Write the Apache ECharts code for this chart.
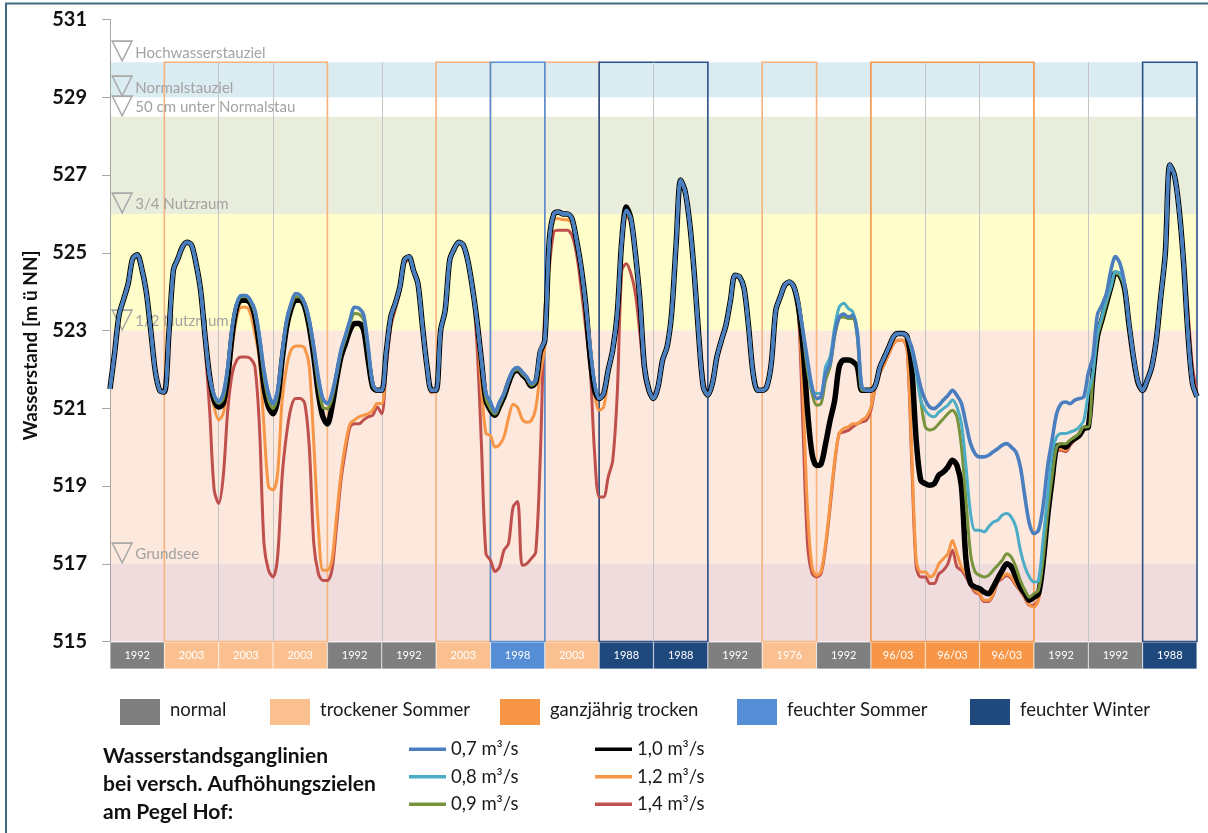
<!DOCTYPE html>
<html><head><meta charset="utf-8">
<script src="https://cdn.jsdelivr.net/npm/echarts@6/dist/echarts.min.js"></script>
<style>html,body{margin:0;padding:0;background:#fff}#c{width:1208px;height:833px}</style>
</head><body><div id="c"></div>
<script>
// ---- data ----
const stepsPerYear = 12;
const yearLabels = ['1992','2003','2003','2003','1992','1992','2003','1998','2003','1988','1988','1992','1976','1992','96/03','96/03','96/03','1992','1992','1988'];
const yearTypes  = ['n','ts','ts','ts','n','n','ts','fs','ts','fw','fw','n','ts','n','gt','gt','gt','n','n','fw'];
const typeKeys   = ['n','ts','gt','fs','fw'];
const typeNames  = ['normal','trockener Sommer','ganzjährig trocken','feuchter Sommer','feuchter Winter'];
const typeColors = ['#7f7f7f','#fac090','#f79646','#558ed5','#1f497d'];
const frameColors= ['#bfbfbf','#f6b27f','#f79646','#558ed5','#2a5087'];

const bandRanges = [[529,529.9],[526,528.5],[523,526],[517,523],[515,517]];
const bandColors = ['#daebf2','#e9eddc','#fffdca','#fce8dc','#f0dcdc'];
const levelNames = ['Hochwasserstauziel','Normalstauziel','50 cm unter Normalstau','3/4 Nutzraum','1/2 Nutzraum','Grundsee'];
const levelValues = [529.9,529.0,528.5,526.0,523.0,517.0];

const seriesNames = ['1,4 m³/s','1,2 m³/s','1,0 m³/s','0,9 m³/s','0,8 m³/s','0,7 m³/s'];
const seriesColors = ['#c0504d','#f79646','#000000','#77933c','#4bacc6','#4a7ebf'];

const h07 = [
521.5,522.4,523.4,523.8,524.2,524.85,524.95,524.6,524.0,523.0,521.95,521.45,
521.42,522.92,524.55,524.85,525.15,525.27,525.2,524.72,524.04,522.84,521.81,521.34,
521.17,521.38,522.07,523.1,523.7,523.9,523.9,523.78,523.52,522.84,521.98,521.38,
521.12,521.46,522.4,523.27,523.7,523.95,523.9,523.7,523.27,522.58,521.8,521.25,
521.12,521.38,521.9,522.5,522.88,523.27,523.6,523.57,523.4,522.58,521.64,521.46,
521.46,522.45,523.35,523.7,524.12,524.81,524.9,524.55,524.2,523.1,522.07,521.46,
521.46,523.0,523.52,524.81,525.1,525.27,525.2,524.8,524.12,523.27,522.24,521.38,
521.16,520.9,521.16,521.38,521.72,521.98,522.05,521.94,521.81,521.64,521.72,522.49,
522.75,525.33,526.0,526.05,526.0,526.0,525.88,525.33,524.64,523.7,522.58,521.64,
521.25,521.38,521.98,522.5,523.44,525.32,526.09,525.88,524.98,523.78,522.07,521.46,
521.25,521.55,522.24,522.58,523.44,525.24,526.87,526.57,525.75,524.47,522.84,521.55,
521.34,521.64,522.32,522.75,523.14,523.78,524.42,524.38,524.08,523.09,521.89,521.46,
521.46,521.55,522.15,523.52,523.87,524.17,524.25,524.12,523.7,523.0,522.24,521.55,
521.25,521.3,521.9,522.15,522.92,523.35,523.42,523.35,523.39,522.92,521.55,521.46,
521.46,521.59,522.06,522.32,522.58,522.84,522.92,522.92,522.84,522.58,522.06,521.55,
521.21,521.03,520.99,521.08,521.21,521.33,521.46,521.33,521.12,520.6,520.09,519.83,
519.75,519.75,519.79,519.88,519.96,520.05,520.09,520.0,519.88,519.49,518.72,518.03,
517.78,517.86,518.46,519.49,520.18,520.86,521.12,521.16,521.12,521.21,521.25,521.29,
521.9,522.32,523.4,523.65,523.95,524.55,524.9,524.72,524.2,523.18,522.32,521.68,
521.46,521.72,522.06,522.75,523.87,524.98,527.26,527.0,526.18,524.81,522.92,521.64,
521.3];

const h08 = [
521.5,522.4,523.4,523.8,524.2,524.85,524.95,524.6,524.0,523.0,521.95,521.45,
521.42,522.92,524.55,524.85,525.15,525.27,525.2,524.72,524.04,522.84,521.81,521.34,
521.17,521.38,522.07,523.1,523.7,523.9,523.9,523.78,523.52,522.84,521.98,521.38,
521.12,521.46,522.4,523.27,523.7,523.95,523.9,523.7,523.27,522.58,521.8,521.25,
521.12,521.38,521.9,522.5,522.88,523.27,523.6,523.57,523.4,522.58,521.64,521.46,
521.46,522.45,523.35,523.7,524.12,524.81,524.9,524.55,524.2,523.1,522.07,521.46,
521.46,523.0,523.52,524.81,525.1,525.27,525.2,524.8,524.12,523.27,522.24,521.38,
521.16,520.9,521.16,521.38,521.72,521.98,522.05,521.94,521.81,521.64,521.72,522.49,
522.75,525.33,526.0,526.05,526.0,526.0,525.88,525.33,524.64,523.7,522.58,521.64,
521.25,521.38,521.98,522.5,523.44,525.32,526.09,525.88,524.98,523.78,522.07,521.46,
521.25,521.55,522.24,522.58,523.44,525.24,526.87,526.57,525.75,524.47,522.84,521.55,
521.34,521.64,522.32,522.75,523.14,523.78,524.42,524.38,524.08,523.09,521.89,521.46,
521.46,521.55,522.15,523.52,523.87,524.17,524.25,524.12,523.7,523.0,522.15,521.46,
521.38,521.38,522.07,522.32,523.09,523.6,523.7,523.57,523.48,523.01,521.55,521.46,
521.46,521.59,522.06,522.32,522.58,522.84,522.92,522.92,522.84,522.5,521.9,521.21,
520.95,520.82,520.78,520.9,520.99,521.08,521.21,521.03,520.6,519.49,518.29,517.86,
517.86,517.82,517.95,518.07,518.12,518.25,518.29,518.2,517.95,517.35,516.92,516.66,
516.53,516.57,517.6,518.72,519.83,520.26,520.35,520.35,520.39,520.43,520.52,520.69,
521.38,521.89,522.92,523.35,523.78,524.12,524.51,524.47,524.12,523.18,522.32,521.68,
521.46,521.72,522.06,522.75,523.87,524.98,527.26,527.0,526.18,524.81,522.92,521.64,
521.3];

const h09 = [
521.5,522.4,523.4,523.8,524.2,524.85,524.95,524.6,524.0,523.0,521.95,521.45,
521.42,522.92,524.55,524.85,525.15,525.27,525.2,524.72,524.04,522.84,521.81,521.29,
521.12,521.25,521.98,523.05,523.68,523.87,523.87,523.74,523.44,522.75,521.81,521.21,
520.99,521.34,522.32,523.18,523.63,523.87,523.85,523.65,523.18,522.45,521.59,521.03,
520.99,521.25,521.81,522.41,522.79,523.18,523.44,523.42,523.27,522.45,521.59,521.46,
521.46,522.45,523.35,523.7,524.12,524.81,524.9,524.55,524.2,523.1,522.07,521.46,
521.46,523.0,523.52,524.81,525.1,525.27,525.2,524.8,524.12,523.27,522.24,521.25,
520.99,520.85,521.08,521.34,521.68,521.94,522.0,521.89,521.77,521.59,521.68,522.45,
522.75,525.33,526.0,526.05,526.0,526.0,525.88,525.33,524.64,523.7,522.58,521.64,
521.25,521.38,521.98,522.5,523.44,525.32,526.09,525.88,524.98,523.78,522.07,521.46,
521.25,521.55,522.24,522.58,523.44,525.24,526.87,526.57,525.75,524.47,522.84,521.55,
521.34,521.64,522.32,522.75,523.14,523.78,524.42,524.38,524.08,523.09,521.89,521.46,
521.46,521.55,522.15,523.52,523.87,524.17,524.25,524.12,523.7,522.92,521.98,521.38,
521.08,521.12,521.72,522.07,522.84,523.31,523.35,523.31,523.31,522.84,521.46,521.46,
521.46,521.59,522.06,522.32,522.58,522.84,522.92,522.92,522.84,522.5,522.06,521.21,
520.52,520.44,520.48,520.6,520.73,520.86,520.95,520.78,520.0,518.63,517.26,516.79,
516.7,516.66,516.7,516.83,516.96,517.09,517.26,517.17,516.92,516.57,516.32,516.14,
516.23,516.32,517.09,518.29,519.23,520.0,520.09,520.09,520.18,520.26,520.35,520.52,
520.52,521.81,522.84,523.27,523.7,524.12,524.47,524.42,524.08,523.14,522.28,521.65,
521.46,521.72,522.06,522.75,523.87,524.98,527.26,527.0,526.18,524.81,522.92,521.64,
521.3];

const h10 = [
521.5,522.4,523.4,523.8,524.2,524.85,524.95,524.6,524.0,523.0,521.95,521.45,
521.42,522.92,524.55,524.85,525.15,525.27,525.2,524.72,524.04,522.84,521.81,521.2,
521.03,521.12,521.81,522.92,523.61,523.78,523.78,523.7,523.35,522.58,521.55,521.03,
520.86,521.21,522.24,523.09,523.57,523.78,523.78,523.61,523.09,522.32,521.38,520.78,
520.6,521.03,521.72,522.32,522.67,523.01,523.18,523.18,523.01,522.24,521.55,521.46,
521.46,522.45,523.35,523.7,524.12,524.81,524.9,524.55,524.2,523.1,522.07,521.46,
521.46,523.0,523.52,524.81,525.1,525.27,525.2,524.8,524.12,523.27,522.24,521.2,
520.95,520.82,521.05,521.3,521.65,521.92,521.98,521.87,521.75,521.57,521.66,522.45,
522.75,525.33,526.0,526.05,526.0,526.0,525.88,525.33,524.64,523.7,522.32,521.46,
521.25,521.38,521.98,522.5,523.44,525.32,526.18,525.88,524.98,523.78,522.07,521.46,
521.25,521.55,522.24,522.58,523.44,525.24,526.87,526.57,525.75,524.47,522.84,521.55,
521.34,521.64,522.32,522.75,523.14,523.78,524.42,524.38,524.08,523.09,521.89,521.46,
521.46,521.55,522.15,523.52,523.87,524.17,524.25,524.12,523.61,522.58,520.95,519.83,
519.53,519.57,520.09,520.69,521.2,522.07,522.24,522.24,522.2,522.07,521.46,521.46,
521.46,521.59,522.06,522.32,522.58,522.84,522.92,522.92,522.84,522.06,520.18,519.15,
519.06,519.02,519.06,519.28,519.36,519.49,519.66,519.53,518.98,517.09,516.49,516.4,
516.36,516.27,516.23,516.4,516.62,516.83,517.0,516.92,516.66,516.4,516.23,516.06,
516.14,516.23,517.0,518.2,519.15,520.0,520.05,520.0,520.13,520.22,520.3,520.48,
520.52,521.81,522.84,523.27,523.7,524.12,524.47,524.42,524.08,523.14,522.28,521.65,
521.46,521.72,522.06,522.75,523.87,524.98,527.26,527.0,526.18,524.81,522.92,521.64,
521.3];

const h12 = [
521.5,522.4,523.4,523.8,524.2,524.85,524.95,524.6,524.0,523.0,521.95,521.45,
521.42,522.92,524.55,524.85,525.15,525.27,525.2,524.72,524.04,522.75,521.64,521.03,
520.7,520.86,521.55,522.58,523.35,523.6,523.6,523.44,522.92,522.24,520.52,518.98,
518.9,519.32,521.2,522.07,522.5,522.6,522.6,522.54,522.07,520.09,517.95,516.83,
516.83,517.09,518.2,519.32,520.09,520.6,520.7,520.78,520.82,520.86,520.95,521.12,
521.12,522.24,523.2,523.6,524.05,524.75,524.85,524.5,524.15,523.05,522.0,521.4,
521.46,523.0,523.52,524.81,525.1,525.27,525.2,524.8,524.12,523.09,521.55,520.35,
520.3,520.0,520.06,520.27,520.75,521.1,521.02,520.72,520.64,520.68,521.0,521.9,
522.58,525.15,525.84,525.88,525.85,525.85,525.75,525.24,524.47,523.44,522.24,521.38,
520.95,521.03,521.8,522.5,523.44,525.32,525.92,525.8,524.98,523.78,522.07,521.46,
521.25,521.55,522.24,522.58,523.44,525.24,526.87,526.57,525.75,524.47,522.84,521.55,
521.34,521.64,522.32,522.75,523.14,523.78,524.42,524.38,524.08,523.09,521.89,521.46,
521.46,521.55,522.15,523.52,523.87,524.17,524.25,524.12,523.52,521.38,518.38,516.92,
516.7,516.8,517.52,518.55,519.66,520.35,520.48,520.52,520.6,520.6,520.7,520.78,
521.03,521.55,521.9,522.15,522.41,522.66,522.75,522.75,522.5,519.92,517.09,516.79,
516.79,516.66,516.74,517.0,517.13,517.26,517.6,517.26,516.92,516.74,516.49,516.32,
516.23,516.06,516.06,516.23,516.57,516.66,516.74,516.66,516.49,516.32,516.14,515.93,
515.89,516.06,516.92,518.12,519.06,519.92,519.96,519.92,520.09,520.18,520.26,520.43,
520.52,521.81,522.84,523.27,523.7,524.12,524.47,524.42,524.08,523.14,522.28,521.65,
521.46,521.72,522.06,522.75,523.87,524.98,527.26,527.0,526.18,524.81,522.92,521.64,
521.3];

const h14 = [
521.5,522.4,523.4,523.8,524.2,524.85,524.95,524.6,524.0,523.0,521.95,521.45,
521.42,522.92,524.55,524.85,525.15,525.27,525.2,524.72,524.04,522.58,520.95,518.9,
518.55,519.24,520.95,521.9,522.24,522.32,522.32,522.28,522.07,520.52,517.52,516.83,
516.66,517.17,519.23,520.35,521.03,521.25,521.25,521.12,520.0,517.52,516.75,516.57,
516.57,516.83,517.95,519.15,519.92,520.52,520.6,520.6,520.7,520.78,520.82,521.03,
520.86,522.07,523.1,523.55,524.0,524.72,524.82,524.5,524.15,523.05,522.0,521.4,
521.46,523.0,523.52,524.81,525.1,525.27,525.2,524.8,524.12,522.7,520.09,517.26,
517.09,516.8,516.92,517.35,517.52,518.46,518.6,516.96,517.0,517.13,517.3,519.75,
523.5,524.64,525.54,525.58,525.58,525.58,525.45,524.98,524.12,523.1,522.07,519.83,
518.72,518.72,519.23,519.66,521.38,524.55,524.72,524.47,523.95,522.92,521.8,521.38,
521.25,521.55,522.24,522.58,523.44,525.24,526.87,526.57,525.75,524.3,523.09,521.81,
521.34,521.64,522.32,522.75,523.14,523.78,524.42,524.38,524.08,523.09,521.89,521.46,
521.46,521.55,522.15,523.52,523.87,524.17,524.25,524.12,523.44,520.52,517.52,516.75,
516.66,516.75,517.43,518.46,519.58,520.35,520.39,520.43,520.52,520.6,520.65,520.69,
520.95,521.55,521.9,522.15,522.41,522.66,522.75,522.75,522.5,519.66,516.92,516.66,
516.66,516.49,516.49,516.74,516.83,517.0,517.35,516.92,516.83,516.66,516.45,516.27,
516.2,516.03,516.03,516.2,516.53,516.62,516.7,516.62,516.45,516.3,516.12,515.93,
515.93,516.1,516.96,518.16,519.1,519.92,519.92,519.88,520.05,520.18,520.3,520.48,
520.52,521.81,522.84,523.27,523.7,524.12,524.47,524.42,524.08,523.14,522.28,521.65,
521.46,521.72,522.06,522.75,523.87,524.98,527.26,527.0,526.18,524.98,523.52,522.07,
521.4];

const seriesData = [h14, h12, h10, h09, h08, h07];
const seriesWidths = [3, 3, 5.5, 3, 3, 3.6];

// ---- build ----
const nYears = yearLabels.length;
const maxX = nYears * stepsPerYear;
const topLevel = levelValues[0];
const FONT = 'Lato, "Open Sans", sans-serif';
function tIdx(t){ return typeKeys.indexOf(t); }

const groups = [];
yearTypes.forEach((t, i) => {
  if (t === 'n') return;
  const last = groups[groups.length - 1];
  if (last && last.type === t && last.end === i) last.end = i + 1;
  else groups.push({type: t, start: i, end: i + 1});
});
const frameEdges = new Set();
groups.forEach(g => { frameEdges.add(g.start); frameEdges.add(g.end); });
groups.sort((a, b) => tIdx(a.type) - tIdx(b.type));
const grayLines = [];
for (let b = 1; b < nYears; b++) if (!frameEdges.has(b)) grayLines.push(b);

const bgSeries = {
  type: 'line', data: [], z: 1, silent: true,
  markArea: {
    silent: true, z: 0,
    data: bandRanges.map((r, i) => [
      {yAxis: r[0], itemStyle: {color: bandColors[i]}},
      {yAxis: r[1]}
    ])
  }
};
const frameSeries = {
  type: 'line', data: [], z: 1, silent: true,
  markArea: {
    silent: true, z: 1,
    data: groups.map(g => [
      {coord: [g.start * stepsPerYear, 515], itemStyle: {color: 'rgba(0,0,0,0)', borderColor: frameColors[tIdx(g.type)], borderWidth: 1.6}},
      {coord: [g.end * stepsPerYear, topLevel]}
    ])
  },
  markLine: {
    silent: true, z: 1, symbol: ['none', 'none'],
    lineStyle: {color: '#c4c4c4', width: 1, type: 'solid'},
    label: {show: false},
    data: grayLines.map(b => [{coord: [b * stepsPerYear, 515]}, {coord: [b * stepsPerYear, topLevel]}])
  }
};
const labelSeries = {
  type: 'line', data: [], z: 1, silent: true,
  markLine: {
    silent: true, z: 1, symbol: ['none', 'none'],
    lineStyle: {color: 'rgba(0,0,0,0)', width: 0},
    label: {
      show: true, position: 'insideStartTop', distance: [1, -4],
      rich: {
        t: {fontSize: 29, fontFamily: 'DejaVu Sans', color: '#a9a9a9', verticalAlign: 'bottom', lineHeight: 30},
        n: {fontSize: 15, fontFamily: FONT, color: '#a3a3a3', verticalAlign: 'bottom', padding: [0, 0, 6, 2]}
      }
    },
    data: levelValues.map((v, i) => ({yAxis: v, label: {formatter: '{t|▽}{n|' + levelNames[i] + '}'}}))
  }
};

const lineSeries = seriesNames.map((nm, k) => ({
  name: nm, type: 'line', xAxisIndex: 0, yAxisIndex: 0,
  data: seriesData[k].map((v, i) => [i, v]),
  symbol: 'none', showSymbol: false, z: 3 + k, smooth: 0.3,
  lineStyle: {color: seriesColors[k], width: seriesWidths[k], join: 'round'},
  itemStyle: {color: seriesColors[k]},
  emphasis: {disabled: true}
}));

const boxSeries = {
  type: 'bar', xAxisIndex: 1, yAxisIndex: 1, barWidth: '100%', barCategoryGap: '0%',
  silent: true,
  data: yearLabels.map((l, i) => ({value: 1, itemStyle: {color: typeColors[tIdx(yearTypes[i])], borderColor: 'rgba(255,255,255,0.35)', borderWidth: 0.6}})),
  label: {show: true, position: 'inside', color: '#ffffff', fontSize: 11, fontFamily: FONT,
    formatter: p => yearLabels[p.dataIndex]}
};

const legX = [120, 270, 500, 737, 970];
const graphics = [];
typeNames.forEach((nm, i) => {
  graphics.push({type: 'rect', left: legX[i], top: 699, shape: {width: 40, height: 26}, style: {fill: typeColors[i]}});
  graphics.push({type: 'text', left: legX[i] + 50, top: 701, style: {text: nm, font: '18.5px ' + FONT, fill: '#1a1a1a'}});
});
graphics.push({type: 'text', left: 103, top: 742, style: {
  text: 'Wasserstandsganglinien\nbei versch. Aufhöhungszielen\nam Pegel Hof:',
  font: 'bold 21px ' + FONT, lineHeight: 28, fill: '#111'}});
graphics.push({type: 'rect', shape: {x: 6, y: 3.5, width: 1240, height: 900}, style: {fill: 'none', stroke: '#3f6a82', lineWidth: 2}, silent: true});

const legendCommon = {orient: 'vertical', top: 734, itemWidth: 37, itemHeight: 3.5, itemGap: 7, icon: 'rect',
  selectedMode: false, textStyle: {fontSize: 18.5, fontFamily: FONT, color: '#1a1a1a', lineHeight: 20.5}};

const option = {
  animation: false,
  backgroundColor: '#ffffff',
  textStyle: {fontFamily: FONT},
  grid: [
    {left: 110, right: 11, top: 19.5, bottom: 191.5, containLabel: false},
    {left: 110, right: 11, top: 642, height: 27, containLabel: false}
  ],
  xAxis: [
    {type: 'value', gridIndex: 0, min: 0, max: maxX, show: false},
    {type: 'category', gridIndex: 1, data: yearLabels, show: false, boundaryGap: true}
  ],
  yAxis: [
    {type: 'value', gridIndex: 0, min: 515, max: 531, interval: 2,
      name: 'Wasserstand [m ü NN]', nameLocation: 'middle', nameGap: 70,
      nameTextStyle: {fontSize: 19, fontWeight: 700, color: '#111', fontFamily: 'Lato', padding: [0, 30, 0, 0]},
      axisLine: {show: true, lineStyle: {color: '#a6a6a6', width: 1}},
      axisTick: {show: true, length: 8, lineStyle: {color: '#a6a6a6'}},
      axisLabel: {fontSize: 20, fontWeight: 'bold', color: '#111', margin: 23, fontFamily: FONT},
      splitLine: {show: false}},
    {type: 'value', gridIndex: 1, min: 0, max: 1, show: false}
  ],
  legend: [
    Object.assign({data: seriesNames.slice(3).reverse(), left: 404}, legendCommon),
    Object.assign({data: seriesNames.slice(0, 3).reverse(), left: 590}, legendCommon)
  ],
  graphic: graphics,
  series: [bgSeries, frameSeries, labelSeries, ...lineSeries, boxSeries]
};
const chart = echarts.init(document.getElementById('c'), null, {renderer: 'canvas'});
chart.setOption(option);
</script></body></html>
